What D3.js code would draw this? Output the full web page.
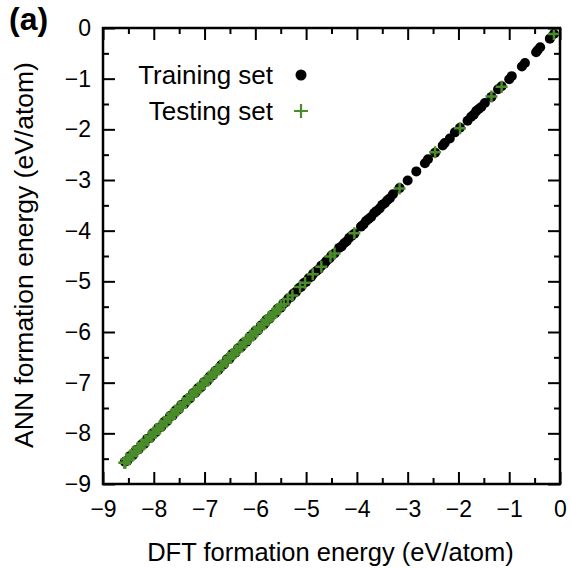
<!DOCTYPE html>
<html>
<head>
<meta charset="utf-8">
<script src="https://cdn.jsdelivr.net/npm/d3@7"></script>
<style>
  body { margin: 0; background: #fff; }
  text { font-family: "Liberation Sans", Arial, sans-serif; }
</style>
</head>
<body>
<script>
// x/y extents and ticks
const xDomain = [-9, 0];
const yDomain = [-9, 0];
const majorTicks = [-9, -8, -7, -6, -5, -4, -3, -2, -1, 0];
const minorTicks = [-8.5, -7.5, -6.5, -5.5, -4.5, -3.5, -2.5, -1.5, -0.5];

// training set (black dots): DFT vs ANN formation energy, eV/atom
const trainDFT = [-0.12,-0.20,-0.39,-0.44,-0.47,-0.69,-0.75,-0.95,-1.00,-1.15,-1.22,-1.35,-1.48,-1.55,-1.60,-1.65,-1.70,-1.75,-1.82,-1.97,
  -2.07,-2.17,-2.27,-2.31,-2.46,-2.60,-2.66,-2.83,-3.00,-3.16,-3.29,-3.35,-3.40,-3.45,-3.50,-3.55,-3.61,-3.66,-3.72,-3.77,
  -3.82,-3.87,-3.92,-4.05,-4.10,-4.15,-4.20,-4.25,-4.30,-4.35,-4.44,-4.50,-4.54,-4.60,-4.64,-4.70,-4.75,-4.80,-4.86,-4.90,
  -4.95,-5.00,-5.05,-5.10,-5.15,-5.20,-5.25,-5.30,-5.35,-5.40,-5.45,-5.50,-5.56,-5.61,-5.67,-5.72,-5.78,-5.83,-5.89,-5.95,
  -6.00,-6.06,-6.11,-6.17,-6.23,-6.28,-6.34,-6.39,-6.45,-6.51,-6.56,-6.62,-6.67,-6.73,-6.79,-6.84,-6.90,-6.95,-7.01,-7.07,
  -7.12,-7.18,-7.23,-7.29,-7.35,-7.40,-7.46,-7.51,-7.57,-7.63,-7.68,-7.74,-7.79,-7.85,-7.91,-7.96,-8.02,-8.07,-8.13,-8.19,
  -8.24,-8.30,-8.35,-8.41,-8.47,-8.52,-8.57];
const trainANN = [-0.12,-0.21,-0.38,-0.44,-0.48,-0.69,-0.76,-0.95,-1.01,-1.15,-1.21,-1.36,-1.48,-1.56,-1.60,-1.64,-1.71,-1.75,-1.83,-1.97,
  -2.06,-2.18,-2.27,-2.32,-2.46,-2.59,-2.67,-2.83,-3.01,-3.16,-3.28,-3.36,-3.40,-3.46,-3.49,-3.56,-3.61,-3.65,-3.73,-3.77,
  -3.81,-3.88,-3.92,-4.06,-4.10,-4.14,-4.21,-4.25,-4.31,-4.34,-4.45,-4.49,-4.55,-4.60,-4.65,-4.69,-4.76,-4.80,-4.85,-4.91,
  -4.94,-5.01,-5.04,-5.11,-5.14,-5.21,-5.24,-5.31,-5.34,-5.41,-5.44,-5.52,-5.54,-5.63,-5.66,-5.74,-5.76,-5.85,-5.87,-5.97,
  -5.98,-6.08,-6.09,-6.19,-6.21,-6.30,-6.32,-6.41,-6.43,-6.53,-6.54,-6.64,-6.65,-6.75,-6.77,-6.86,-6.88,-6.97,-6.99,-7.09,
  -7.10,-7.20,-7.21,-7.31,-7.33,-7.42,-7.44,-7.53,-7.55,-7.65,-7.66,-7.76,-7.77,-7.87,-7.89,-7.98,-8.00,-8.09,-8.11,-8.21,
  -8.22,-8.32,-8.33,-8.43,-8.45,-8.54,-8.56];

// testing set (green crosses)
const testDFT = [-0.12,-1.15,-1.35,-1.97,-2.46,-3.16,-4.05,-4.44,-4.52,-4.70,-4.87,-5.02,-5.12,-5.27,-5.36,-5.44,
  -5.50,-5.53,-5.57,-5.61,-5.64,-5.68,-5.72,-5.75,-5.79,-5.83,-5.86,-5.90,-5.94,-5.98,-6.01,-6.05,-6.09,-6.12,-6.16,-6.20,
  -6.23,-6.27,-6.31,-6.35,-6.38,-6.42,-6.46,-6.49,-6.53,-6.57,-6.60,-6.64,-6.68,-6.72,-6.75,-6.79,-6.83,-6.86,-6.90,-6.94,
  -6.97,-7.01,-7.05,-7.09,-7.12,-7.16,-7.20,-7.23,-7.27,-7.31,-7.34,-7.38,-7.42,-7.46,-7.49,-7.53,-7.57,-7.60,-7.64,-7.68,
  -7.71,-7.75,-7.79,-7.83,-7.86,-7.90,-7.94,-7.97,-8.01,-8.05,-8.08,-8.12,-8.16,-8.20,-8.23,-8.27,-8.31,-8.34,-8.38,-8.42,
  -8.45,-8.49,-8.53,-8.56,-8.58];
const testANN = [-0.12,-1.16,-1.35,-1.98,-2.45,-3.17,-4.05,-4.45,-4.51,-4.71,-4.86,-5.03,-5.11,-5.28,-5.35,-5.45,
  -5.48,-5.55,-5.55,-5.63,-5.62,-5.70,-5.70,-5.77,-5.77,-5.85,-5.84,-5.92,-5.92,-6.00,-5.99,-6.07,-6.07,-6.14,-6.14,-6.22,
  -6.21,-6.29,-6.29,-6.37,-6.36,-6.44,-6.44,-6.51,-6.51,-6.59,-6.58,-6.66,-6.66,-6.74,-6.73,-6.81,-6.81,-6.88,-6.88,-6.96,
  -6.95,-7.03,-7.03,-7.11,-7.10,-7.18,-7.18,-7.25,-7.25,-7.33,-7.32,-7.40,-7.40,-7.48,-7.47,-7.55,-7.55,-7.62,-7.62,-7.70,
  -7.69,-7.77,-7.77,-7.85,-7.84,-7.92,-7.92,-7.99,-7.99,-8.07,-8.06,-8.14,-8.14,-8.22,-8.21,-8.29,-8.29,-8.36,-8.36,-8.44,
  -8.43,-8.51,-8.51,-8.58,-8.58];

const legendLabels = ["Training set", "Testing set"];

const width = 571, height = 568;
const mLeft = 103, mTop = 28, plotW = 457, plotH = 456;
const green = "#4a8c2a";

const svg = d3.select("body").append("svg")
  .attr("width", width)
  .attr("height", height);

const x = d3.scaleLinear().domain(xDomain).range([mLeft, mLeft + plotW]);
const y = d3.scaleLinear().domain(yDomain).range([mTop + plotH, mTop]);

// data first, frame on top
const train = trainDFT.map((d, i) => [d, trainANN[i]]);
const test = testDFT.map((d, i) => [d, testANN[i]]);

svg.append("g")
  .selectAll("circle")
  .data(train)
  .join("circle")
  .attr("cx", d => x(d[0]))
  .attr("cy", d => y(d[1]))
  .attr("r", 5)
  .attr("fill", "#000");

const arm = 6;
svg.append("g")
  .attr("stroke", green)
  .attr("stroke-width", 2.5)
  .selectAll("path")
  .data(test)
  .join("path")
  .attr("d", d => `M${x(d[0]) - arm},${y(d[1])}h${2 * arm}M${x(d[0])},${y(d[1]) - arm}v${2 * arm}`);

// axes, ticks pointing inward on all four sides
function styleAxis(g) {
  g.select(".domain").remove();
  g.selectAll(".tick line").attr("stroke", "#000").attr("stroke-width", 2);
  g.selectAll("text").attr("font-size", 23).attr("fill", "#000")
    .attr("font-family", "'Liberation Sans', Arial, sans-serif");
}

svg.append("g")
  .attr("transform", `translate(0,${mTop + plotH})`)
  .call(d3.axisBottom(x).tickValues(majorTicks).tickSize(-12).tickPadding(17).tickFormat(d3.format("d")))
  .call(styleAxis);
svg.append("g")
  .attr("transform", `translate(0,${mTop + plotH})`)
  .call(d3.axisBottom(x).tickValues(minorTicks).tickSize(-6).tickFormat(""))
  .call(styleAxis);
svg.append("g")
  .attr("transform", `translate(0,${mTop})`)
  .call(d3.axisTop(x).tickValues(majorTicks).tickSize(-12).tickFormat(""))
  .call(styleAxis);
svg.append("g")
  .attr("transform", `translate(0,${mTop})`)
  .call(d3.axisTop(x).tickValues(minorTicks).tickSize(-6).tickFormat(""))
  .call(styleAxis);

svg.append("g")
  .attr("transform", `translate(${mLeft},0)`)
  .call(d3.axisLeft(y).tickValues(majorTicks).tickSize(-12).tickPadding(12).tickFormat(d3.format("d")))
  .call(styleAxis);
svg.append("g")
  .attr("transform", `translate(${mLeft},0)`)
  .call(d3.axisLeft(y).tickValues(minorTicks).tickSize(-6).tickFormat(""))
  .call(styleAxis);
svg.append("g")
  .attr("transform", `translate(${mLeft + plotW},0)`)
  .call(d3.axisRight(y).tickValues(majorTicks).tickSize(-12).tickFormat(""))
  .call(styleAxis);
svg.append("g")
  .attr("transform", `translate(${mLeft + plotW},0)`)
  .call(d3.axisRight(y).tickValues(minorTicks).tickSize(-6).tickFormat(""))
  .call(styleAxis);

svg.append("rect")
  .attr("x", mLeft)
  .attr("y", mTop)
  .attr("width", plotW)
  .attr("height", plotH)
  .attr("fill", "none")
  .attr("stroke", "#000")
  .attr("stroke-width", 2.5);

// titles
svg.append("text")
  .attr("x", mLeft + plotW / 2 - 1)
  .attr("y", 561)
  .attr("text-anchor", "middle")
  .attr("font-size", 25.5)
  .text("DFT formation energy (eV/atom)");

svg.append("text")
  .attr("transform", `translate(33,255) rotate(-90)`)
  .attr("text-anchor", "middle")
  .attr("font-size", 26.5)
  .text("ANN formation energy (eV/atom)");

svg.append("text")
  .attr("x", 9)
  .attr("y", 30)
  .attr("font-size", 32)
  .attr("font-weight", "bold")
  .text("(a)");

// legend
const leg = svg.append("g");
leg.selectAll("text")
  .data(legendLabels)
  .join("text")
  .attr("x", 273)
  .attr("y", (d, i) => 84 + i * 36)
  .attr("text-anchor", "end")
  .attr("font-size", 26)
  .text(d => d);
leg.append("circle")
  .attr("cx", 301)
  .attr("cy", 75)
  .attr("r", 5.5)
  .attr("fill", "#000");
leg.append("path")
  .attr("d", `M${301 - 7},111h14M301,${111 - 7}v14`)
  .attr("stroke", green)
  .attr("stroke-width", 2.2);
</script>
</body>
</html>
